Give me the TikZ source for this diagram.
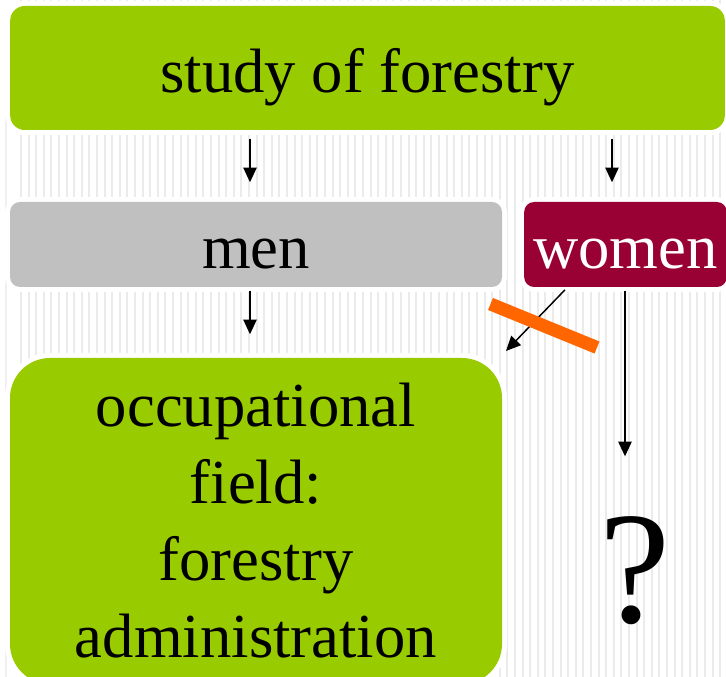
\documentclass[tikz,border=0pt]{standalone}
\usepackage{fontspec}
\setmainfont{Liberation Serif}
\usetikzlibrary{arrows.meta}
\definecolor{leaf}{HTML}{99CC00}
\definecolor{stone}{HTML}{C0C0C0}
\definecolor{wine}{HTML}{990033}
\definecolor{tangerine}{HTML}{FF6600}

\begin{document}
\begin{tikzpicture}[x = 0.75pt, y = -0.75pt, line width = 1.1pt,
                      stripe/.style = {draw = black!8, line width = 1.6pt},
                      box/.style = {inner sep = 0pt, rounded corners = 7.5pt,
                                    font = \fontsize{47pt}{57.75pt}\selectfont,
                                    preaction = {draw = white, line width = 7.5pt}},
                      oneline/.style = {text height = 40pt, text depth = 3.8pt},
                      arr/.style = {-{Triangle[length = 11pt, width = 10pt]}},
                      bar/.style = {draw = tangerine, line width = 9.75pt}]
    \useasboundingbox (0, 0) rectangle (726, 677);
    % striped background
    \foreach \x in {21, 28.6, ..., 726}
      \draw [stripe] (\x, 0) -- (\x, 677);
    \draw [draw = black!6, line width = 1pt] (6, 20) -- (6, 677);

    \node [box, oneline, fill = leaf, rounded corners = 11pt,
           minimum width = 536pt, minimum height = 93pt] (top) at (367.5, 68) {study of forestry};
    \node [box, oneline, fill = stone, minimum width = 369pt, minimum height = 63.75pt] (men) at (256, 244.5) {men};
    \node [box, oneline, fill = wine, text = white, minimum width = 152pt,
           minimum height = 63.75pt] (women) at (625.5, 244.5) {women};
    \node [box, fill = leaf, rounded corners = 30pt, align = center,
           minimum width = 369pt, minimum height = 244.5pt] (occ) at (256, 521)
          {occupational\\ field:\\ forestry\\ administration};
    \node [inner sep = 0pt, anchor = base, font = \fontsize{120pt}{120pt}\selectfont] (q) at (635, 623) {?};
    \coordinate (cut) at (506, 351);

    \draw [arr, shorten <= 6pt, shorten >= 14.25pt] (top.south -| 250, 0) -- (men.north -| 250, 0);
    \draw [arr, shorten <= 6pt, shorten >= 14.25pt] (top.south -| 612, 0) -- (women.north -| 612, 0);
    \draw [arr, shorten <= 2.25pt, shorten >= 17.25pt] (men.south -| 250, 0) -- (occ.north -| 250, 0);
    \draw [arr, shorten <= 2.25pt] (women.south -| 567, 0) -- (cut);
    \draw [arr, shorten <= 2.25pt, shorten >= 45pt] (women.south -| 625, 0) -- (q.north -| 625, 0);
    % crossed-out path
    \draw [bar] (490.5, 304) -- (597, 347.5);
    \end{tikzpicture}
\end{document}
